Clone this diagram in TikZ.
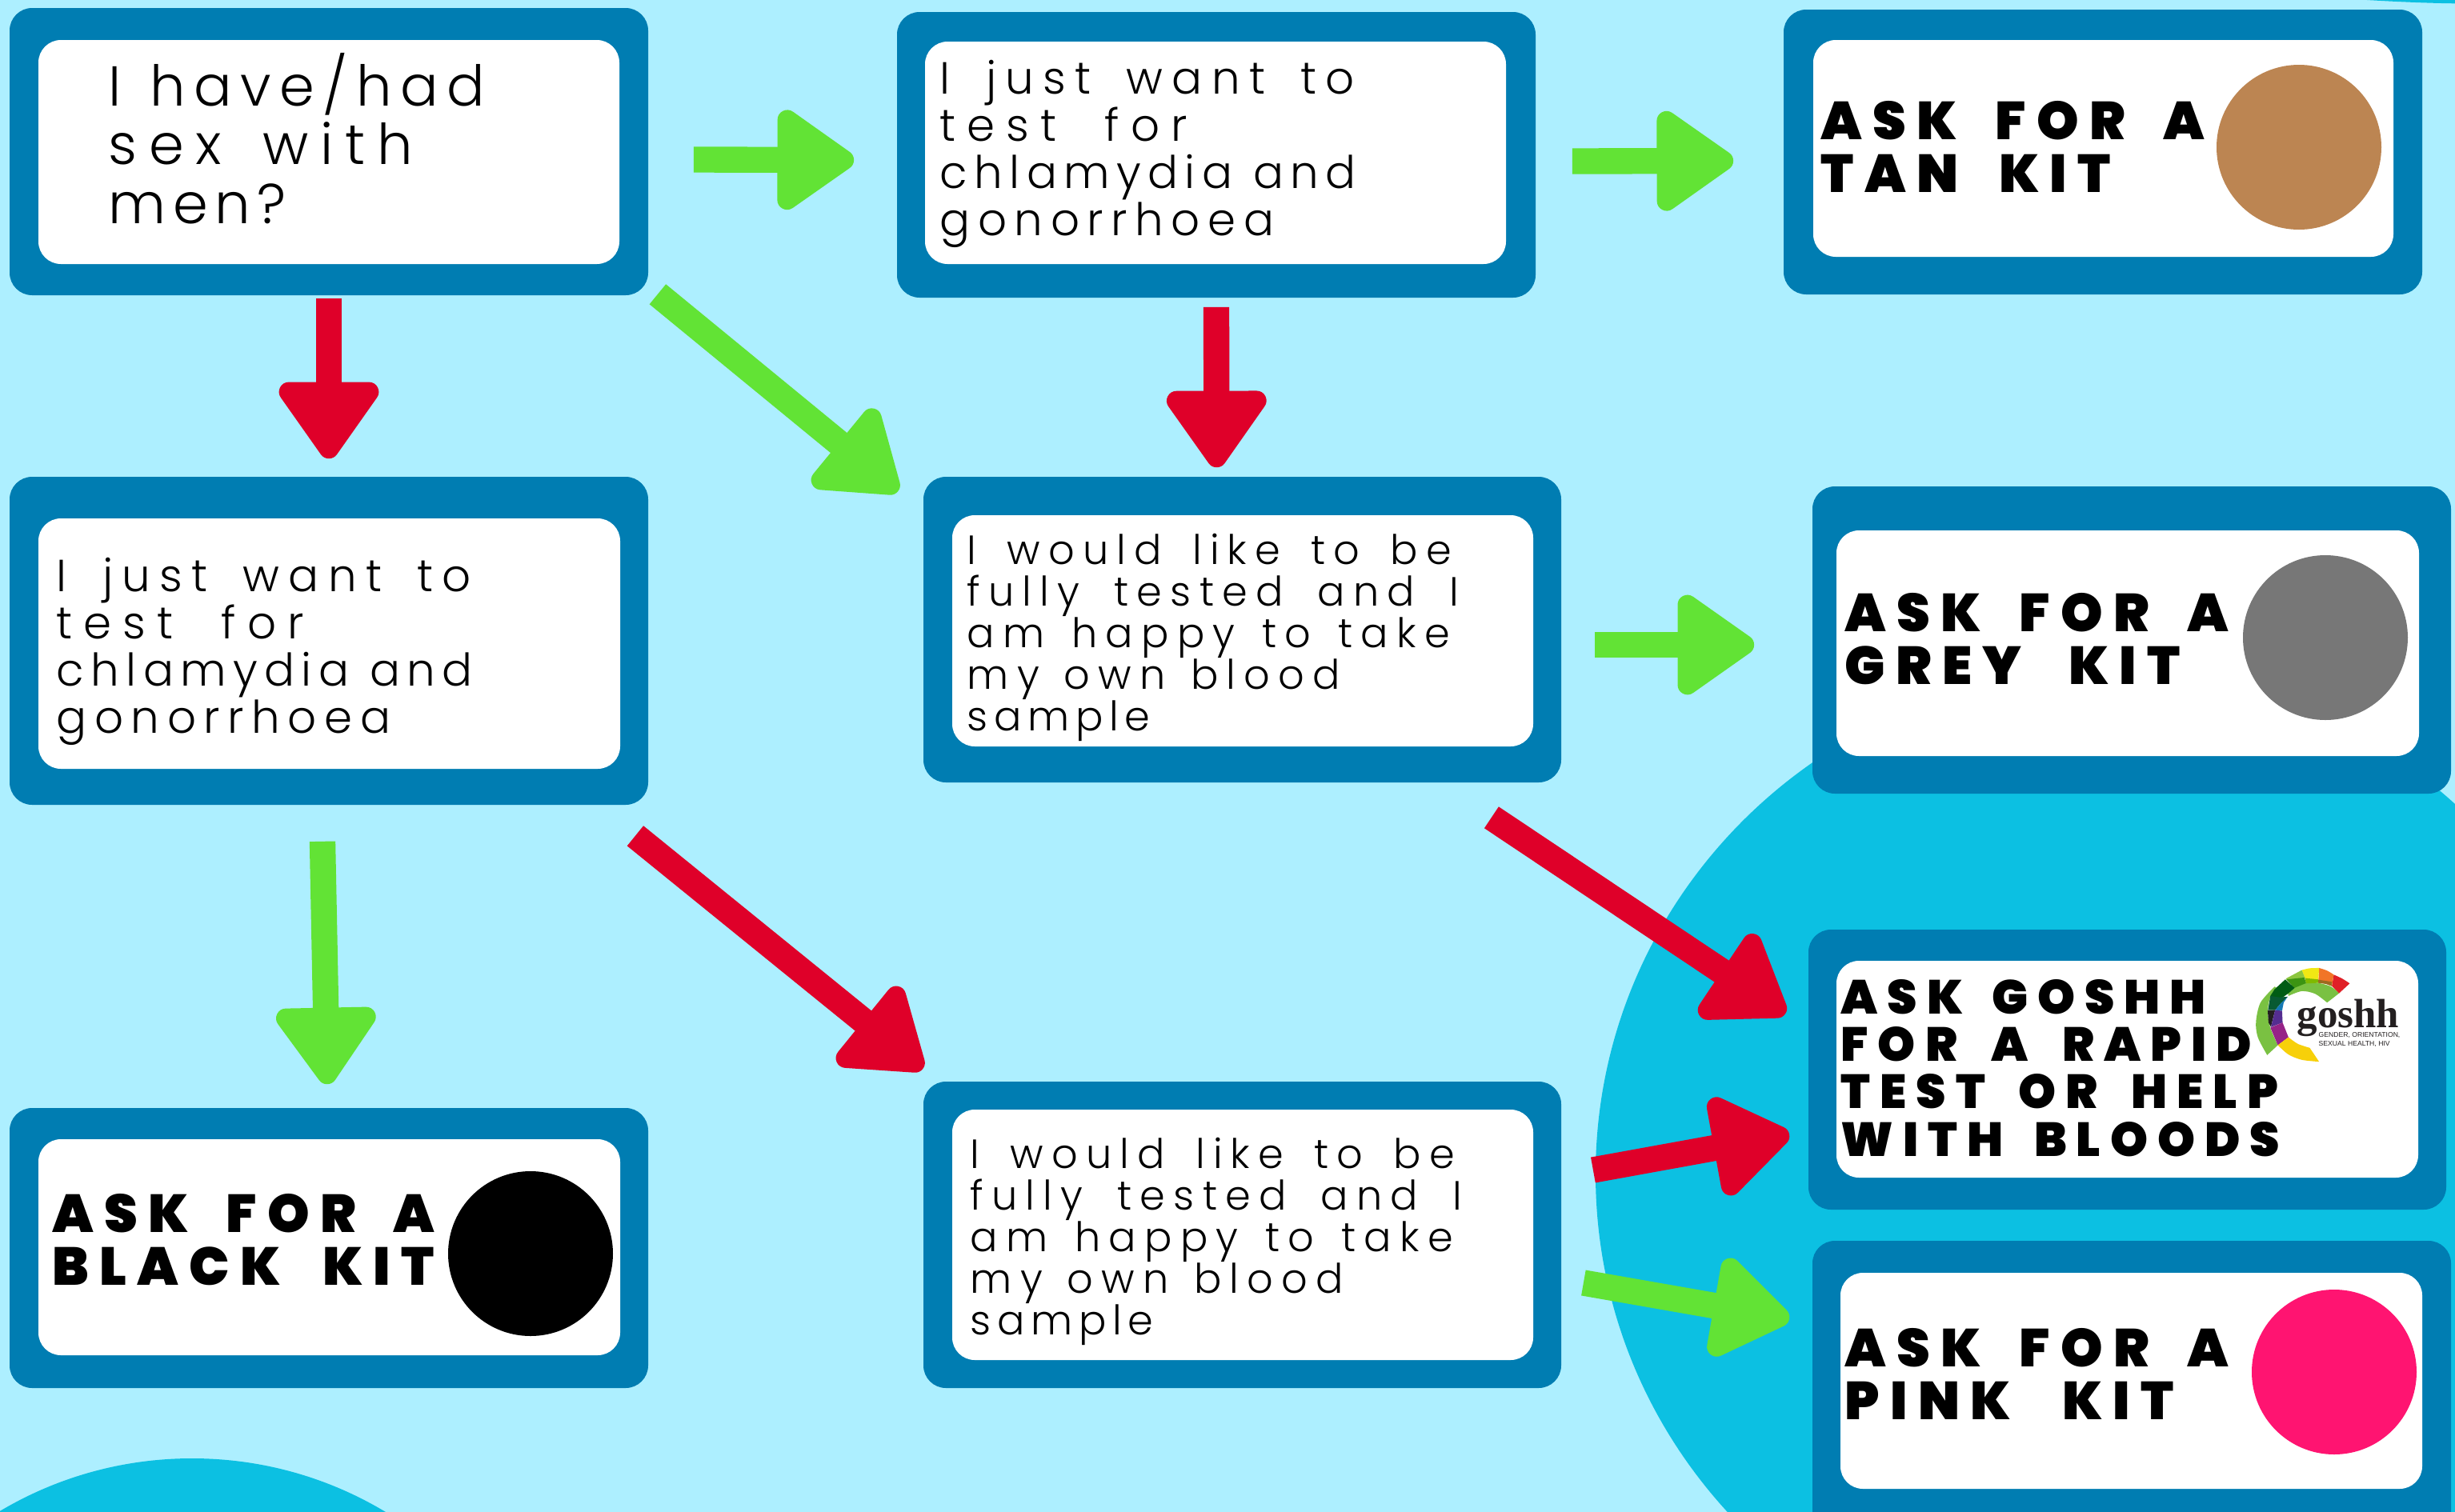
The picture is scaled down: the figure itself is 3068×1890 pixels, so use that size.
\documentclass[tikz,border=0pt]{standalone}
\usepackage{fontspec}
\usetikzlibrary{arrows.meta,calc}
\newfontfamily\bodyfont[LetterSpace=20]{Poppins Light}
\newfontfamily\bodytight[LetterSpace=15]{Poppins Light}
\newfontfamily\bodyloose[LetterSpace=25]{Poppins Light}
\newfontfamily\bodymid[LetterSpace=21]{Poppins Light}
\newfontfamily\bodyg[LetterSpace=17]{Poppins Light}
\newfontfamily\bodycramp[LetterSpace=12]{Poppins Light}
\newfontfamily\headfont[LetterSpace=20]{Poppins Black}
\definecolor{bgc}{HTML}{ADEFFF}
\definecolor{blobc}{HTML}{0CC0E2}
\definecolor{framec}{HTML}{007DB2}
\definecolor{greenc}{HTML}{62E335}
\definecolor{redc}{HTML}{DF0029}
\definecolor{tanc}{HTML}{BC8552}
\definecolor{greyc}{HTML}{777777}
\definecolor{pinkc}{HTML}{FF1471}
\definecolor{logoink}{HTML}{231F20}
\definecolor{logolime}{HTML}{7AC142}
\definecolor{logored}{HTML}{E02027}
\definecolor{logoorange}{HTML}{F17527}
\definecolor{logolemon}{HTML}{F0E814}
\definecolor{logoleaf}{HTML}{8CC63F}
\definecolor{logoolive}{HTML}{7FBA00}
\definecolor{logomoss}{HTML}{9C6B1E}
\definecolor{logomid}{HTML}{3C9412}
\definecolor{logodark}{HTML}{005C14}
\definecolor{logoteal}{HTML}{085A32}
\definecolor{logoblue}{HTML}{1478B4}
\definecolor{logoviolet}{HTML}{552D91}
\definecolor{logomagenta}{HTML}{962387}
\definecolor{logoyellow}{HTML}{F7D00A}
\tikzset{
 outerbox/.style={fill=framec,rounded corners=8pt,inner sep=0pt},
 innerbox/.style={fill=white,rounded corners=8pt},
 conn/.style={line width=9.2pt,line cap=butt,-{Triangle[length=30pt,width=40pt,line width=7pt,round]}},
 goarrow/.style={conn,draw=greenc,fill=greenc},
 stoparrow/.style={conn,draw=redc,fill=redc},
 bodytext/.style={anchor=north west,align=left,inner sep=0pt,text=black},
 headtext/.style={anchor=north west,align=left,inner sep=0pt,text=black},
}
\newcommand{\fl}[2]{\hbox to #1\dimexpr 0.2845pt\relax{#2}}
\newcommand{\panel}[9]{% name, outer x0,y0,x1,y1, inner x0,y0,x1,y1
 \fill[outerbox] (#2,#3) rectangle (#4,#5);
 \fill[innerbox] (#6,#7) rectangle (#8,#9);
 \node[inner sep=0pt,minimum size=0pt] (#1) at ({(#2+#4)/2},{(#3+#5)/2}) [minimum width={(#4-#2)*0.2845pt},minimum height={(#5-#3)*0.2845pt}] {};
}
\newcommand{\justlines}{\fl{518}{I just want to}\\\fl{309}{\bodyloose test for}\\\fl{520}{\bodytight chlamydia and}\\{\bodyg gonorrhoea}}
\newcommand{\fulllines}{\fl{605}{I would like to be}\\\fl{614}{fully tested and I}\\\fl{603}{am happy to take}\\\fl{466}{my own blood}\\{\bodytight sample}}
\begin{document}
\begin{tikzpicture}[x=0.01cm,y=-0.01cm]
\useasboundingbox (0,0) rectangle (3068,1890);
\fill[bgc] (0,0) rectangle (3068,1890);
\begin{scope}
\clip (0,0) rectangle (3068,1890);
\fill[blobc] (2634,1468) ellipse [x radius=640,y radius=630];
\fill[blobc] (240,2293) circle (470);
\fill[blobc] (2958,0) .. controls (3000,2.5) and (3040,4) .. (3068,4.3) -- (3068,0) -- cycle;
\end{scope}
\panel{qsex}{12}{10}{810}{369}{48}{50}{774}{330}
\panel{qtestA}{1121}{15}{1919}{372}{1156}{52}{1882}{330}
\panel{kittan}{2229}{12}{3027}{368}{2266}{50}{2991}{321}
\panel{qtestB}{12}{596}{810}{1006}{48}{648}{775}{961}
\panel{qfullA}{1154}{596}{1951}{978}{1190}{644}{1916}{933}
\panel{kitgrey}{2265}{608}{3063}{992}{2295}{663}{3023}{945}
\panel{kitblack}{12}{1385}{810}{1735}{48}{1424}{775}{1694}
\panel{qfullB}{1154}{1352}{1951}{1735}{1190}{1387}{1916}{1700}
\panel{kitgoshh}{2260}{1162}{3057}{1512}{2295}{1201}{3022}{1472}
\panel{kitpink}{2265}{1551}{3063}{1950}{2300}{1591}{3027}{1861}
% circles
\fill[tanc] (2873,184) circle (103);
\fill[greyc] (2906,797) circle (103);
\fill[black] (663,1567) circle (103);
\fill[pinkc] (2917,1715) circle (103);
% body texts
\node[bodytext,font=\fontsize{20}{20.8}\bodyfont] (t1) at (135,66) {\fl{470}{\bodytight I have/had}\\\fl{380}{\bodymid sex with}\\{\bodycramp men?}};
\node[bodytext,font=\fontsize{16}{16.8}\bodyfont] (t2) at (1174,74) {\justlines};
\node[bodytext,font=\fontsize{16}{16.8}\bodyfont] (t3) at (70,696) {\justlines};
\node[bodytext,font=\fontsize{14.5}{14.85}\bodyfont] (t4) at (1208,666) {\fulllines};
\node[bodytext,font=\fontsize{14.5}{14.85}\bodyfont] (t5) at (1212,1421) {\fulllines};
% head texts
\node[headtext,font=\fontsize{19}{18.8}\headfont] (h1) at (2275,126) {\fl{479}{ASK FOR A}\\\fl{362}{TAN KIT}};
\node[headtext,font=\fontsize{19}{18.8}\headfont] (h2) at (2305,741) {\fl{479}{ASK FOR A}\\\fl{419}{GREY KIT}};
\node[headtext,font=\fontsize{19}{18.8}\headfont] (h3) at (65,1492) {\fl{477}{ASK FOR A}\\\fl{477}{BLACK KIT}};
\node[headtext,font=\fontsize{19}{18.8}\headfont] (h4) at (2305,1660) {\fl{479}{ASK FOR A}\\\fl{411}{PINK KIT}};
\node[headtext,font=\fontsize{17}{16.8}\headfont] (h5) at (2300,1224) {\fl{456}{ASK GOSHH}\\\fl{513}{FOR A RAPID}\\\fl{546}{TEST OR HELP}\\\fl{548}{WITH BLOODS}};
% logo
\begin{scope}[shift={(2780,1190)},x=0.003333cm,y=-0.003333cm]
\fill[logolime] plot[smooth] coordinates {(160,387)(125,320)(118,262)(135,190)(188,130)} -- plot[smooth] coordinates {(205,140)(172,170)(162,225)(172,285)(200,350)} -- cycle;
\fill[logolime] plot[smooth] coordinates {(235,135)(300,116)(350,116)(400,130)(430,155)} -- (385,190) -- plot[smooth] coordinates {(385,190)(340,157)(290,147)(240,165)} -- cycle;
\fill[logored] plot[smooth] coordinates {(410,85)(442,100)(470,118)} -- (430,155) -- (403,128) -- cycle;
\fill[logoorange] plot[smooth] coordinates {(355,60)(385,70)(410,85)} -- (403,128) -- plot[smooth] coordinates {(403,128)(380,118)(352,116)} -- cycle;
\fill[logomoss] (352,104)--(403,112)--(403,128)--(380,120)--(352,116)--cycle;
\fill[logolemon] plot[smooth] coordinates {(290,68)(320,61)(355,60)} -- (352,103) -- (303,100) -- cycle;
\fill[logoolive] (303,98)--(352,103)--(352,116)--(305,118)--cycle;
\fill[logoleaf] (230,100)--(290,68)--(303,100)--(245,112)--cycle;
\fill[logomid] (232,103)--(300,96)--(306,117)--(262,135)--cycle;
\fill[logodark] (188,140)--(228,103)--(263,135)--(240,155)--(205,180)--(172,165)--cycle;
\fill[logoteal] (163,218)--(172,165)--(205,170)--(237,168)--(212,192)--(190,218)--cycle;
\fill[logoblue] (190,218)--(212,192)--(237,168)--(222,190)--(216,221)--cycle;
\fill[logoink] (162,220)--(190,218)--(174,281)--(165,265)--cycle;
\fill[logoviolet] (190,218)--(216,221)--(218,265)--(174,282)--cycle;
\fill[logomagenta] (172,284)--(218,265)--(240,320)--(200,350)--cycle;
\fill[logoyellow] plot[smooth] coordinates {(200,350)(240,385)(290,405)(355,412)} -- plot[smooth] coordinates {(320,360)(275,345)(240,320)} -- cycle;
\end{scope}
\node[anchor=base west,inner sep=0pt,font={\fontsize{14.5}{16}\fontspec{Liberation Serif}\bfseries},text=logoink] (goshhname) at (2870,1284) {\raisebox{0pt}[\height][0pt]{goshh}};
\node[anchor=north west,align=left,inner sep=0pt,font={\fontsize{2.45}{3.1}\fontspec{Liberation Sans}},text=logoink] (goshhsub) at (2897,1290) {GENDER, ORIENTATION,\\SEXUAL HEALTH, HIV};
% connectors
\draw[goarrow] ([shift={(56,10)}]qsex.east) -- ([shift={(-53,6.5)}]qtestA.west);
\draw[stoparrow] ([shift={(0,3)}]qsex.south) -- ([shift={(0,-22)}]qtestB.north);
\draw[goarrow] ([shift={(11,-2)}]qsex.south east) -- ([shift={(-31,19)}]qfullA.north west);
\draw[goarrow] ([shift={(45,8)}]qtestA.east) -- ([shift={(-62,11)}]kittan.west);
\draw[stoparrow] ([shift={(0,11)}]qtestA.south) -- ([shift={(-32,-11)}]qfullA.north);
\draw[goarrow] ([shift={(41,19)}]qfullA.east) -- ([shift={(-72,6)}]kitgrey.west);
\draw[goarrow] ([shift={(-8,45)}]qtestB.south) -- ([shift={(-2,-29)}]kitblack.north);
\draw[stoparrow] ([shift={(-17,38)}]qtestB.south east) -- ([shift={(0,-15)}]qfullB.north west);
\draw[stoparrow] ([shift={(-88,43)}]qfullA.south east) -- ([shift={(-28,106)}]kitgoshh.north west);
\draw[stoparrow] ([shift={(39,-81)}]qfullB.east) -- ([shift={(-23,81)}]kitgoshh.west);
\draw[goarrow] ([shift={(27,60)}]qfullB.east) -- ([shift={(-28,-102)}]kitpink.west);
\end{tikzpicture}
\end{document}
